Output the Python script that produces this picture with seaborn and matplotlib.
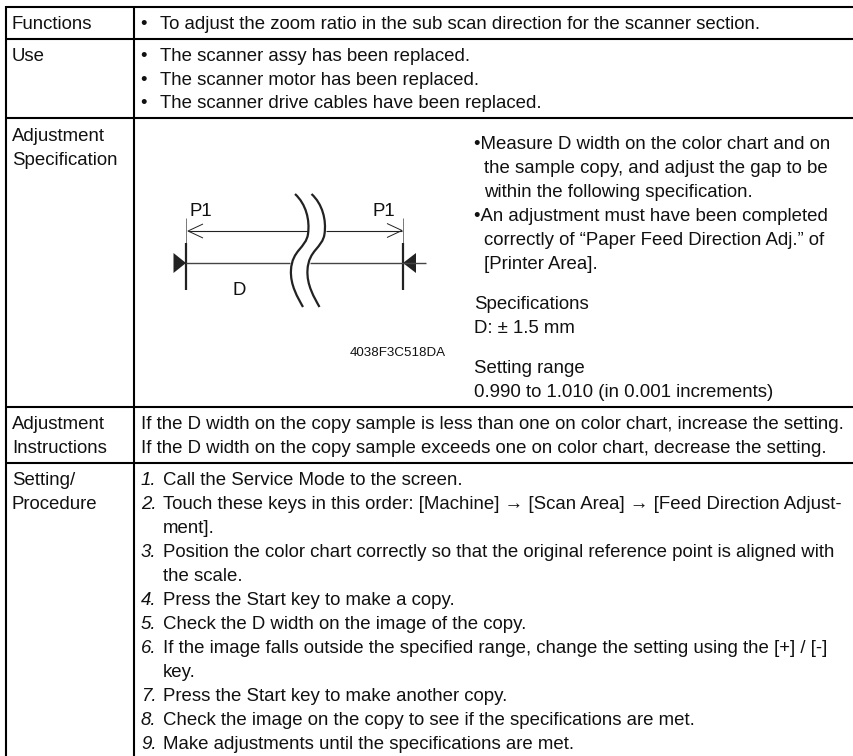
import matplotlib
matplotlib.use("Agg")
import matplotlib.pyplot as plt
from matplotlib.patches import PathPatch
from matplotlib.path import Path
import seaborn as sns

# --- table text ---
row_labels = ["Functions", "Use", "Adjustment", "Specification", "Adjustment", "Instructions", "Setting/", "Procedure"]
bullets = [
    "To adjust the zoom ratio in the sub scan direction for the scanner section.",
    "The scanner assy has been replaced.",
    "The scanner motor has been replaced.",
    "The scanner drive cables have been replaced.",
]
spec_notes = [
    "•Measure D width on the color chart and on",
    " the sample copy, and adjust the gap to be",
    " within the following specification.",
    "•An adjustment must have been completed",
    " correctly of “Paper Feed Direction Adj.” of",
    " [Printer Area].",
    "Specifications",
    "D: ± 1.5 mm",
    "Setting range",
    "0.990 to 1.010 (in 0.001 increments)",
]
instructions = [
    "If the D width on the copy sample is less than one on color chart, increase the setting.",
    "If the D width on the copy sample exceeds one on color chart, decrease the setting.",
]
step_lines = [
    ("1.", "Call the Service Mode to the screen."),
    ("2.", "Touch these keys in this order: [Machine] → [Scan Area] → [Feed Direction Adjust-"),
    ("", "ment]."),
    ("3.", "Position the color chart correctly so that the original reference point is aligned with"),
    ("", "the scale."),
    ("4.", "Press the Start key to make a copy."),
    ("5.", "Check the D width on the image of the copy."),
    ("6.", "If the image falls outside the specified range, change the setting using the [+] / [-]"),
    ("", "key."),
    ("7.", "Press the Start key to make another copy."),
    ("8.", "Check the image on the copy to see if the specifications are met."),
    ("9.", "Make adjustments until the specifications are met."),
]
figure_code = "4038F3C518DA"

# --- baselines, in pixels ---
label_y = [28.7, 60.7, 140.7, 164.7, 428.7, 452.7, 484.7, 508.7]
bullet_y = [28.7, 60.7, 84.7, 107.7]
note_y = [148.7, 172.7, 196.7, 220.7, 244.7, 268.7, 308.7, 332.7, 372.7, 396.7]
instr_y = [428.7, 452.7]
step_y = [484.7, 508.7, 532.7, 556.7, 580.7, 604.7, 628.7, 652.7, 676.7, 700.7, 724.7, 748.7]
rule_y = [7, 39, 118, 407, 463]

# --- wavy break of the diagram (bezier control points) ---
wave_pts = [(295, 194), (306, 204), (310, 220), (308, 234),
            (306, 248), (292, 250), (291, 270),
            (290, 285), (298, 298), (303, 307)]
wave_gap = 16.5

sns.set_theme(style="white")
plt.rcParams["font.family"] = ["Liberation Sans", "DejaVu Sans"]

BODY = 13.45
fig, ax = plt.subplots(figsize=(8.54, 7.56), dpi=100)
ax.set_position([0, 0, 1, 1])
ax.set_xlim(0, 854)
ax.set_ylim(756, 0)
ax.axis("off")


def put(x, y, s, size=BODY, **kw):
    ax.text(x, y, s, fontsize=size, color="#111111", va="baseline", ha="left", **kw)


def seg(xs, ys, lw=1.0, color="#222222"):
    sns.lineplot(x=xs, y=ys, ax=ax, sort=False, estimator=None, color=color, linewidth=lw,
                 legend=False, solid_capstyle="butt")


# table rules
for y in rule_y:
    seg([6, 854], [y, y], lw=1.5, color="black")
seg([6, 6], [6, 756], lw=1.5, color="black")
seg([134.5, 134.5], [6, 756], lw=1.5, color="black")

# table text
for s, y in zip(row_labels, label_y):
    put(12, y, s)
for s, y in zip(bullets, bullet_y):
    put(140, y, "•")
    put(160, y, s)
for s, y in zip(spec_notes, note_y):
    put(484 if s.startswith(" ") else 474, y, s.strip())
for s, y in zip(instructions, instr_y):
    put(141, y, s)
for (num, s), y in zip(step_lines, step_y):
    if num:
        put(141, y, num, style="italic")
    put(163, y, s)

# diagram: tick marks
for x in [186, 403]:
    seg([x, x], [218, 244], lw=0.7, color="#777777")
    seg([x, x], [243, 290], lw=1.6, color="#222222")

# diagram: D line and P1 arrow
seg([186, 290], [263, 263], lw=1.0, color="#444444")
seg([310, 426], [263, 263], lw=1.0, color="#444444")
seg([188, 308], [231, 231], lw=0.8)
seg([326, 402], [230.5, 230.5], lw=0.8)
seg([203, 188, 203], [224, 231, 238], lw=0.7)
seg([387, 402, 387], [223.5, 230.5, 237.5], lw=0.7)
ax.fill([186, 173.5, 173.5], [263, 253, 273], color="#222222", lw=0)
ax.fill([403, 416, 416], [263, 253, 273], color="#222222", lw=0)

# diagram: break curves
codes = [Path.MOVETO] + [Path.CURVE4] * 9
for dx in [0, wave_gap]:
    path = Path([(x + dx, y) for x, y in wave_pts], codes)
    ax.add_patch(PathPatch(path, fill=False, edgecolor="#222222", lw=1.6, capstyle="butt"))

put(190, 216, "P1")
put(373, 216, "P1")
put(233, 295, "D")
put(350, 356, figure_code, size=9.6)

fig.savefig("out.png", dpi=100)
